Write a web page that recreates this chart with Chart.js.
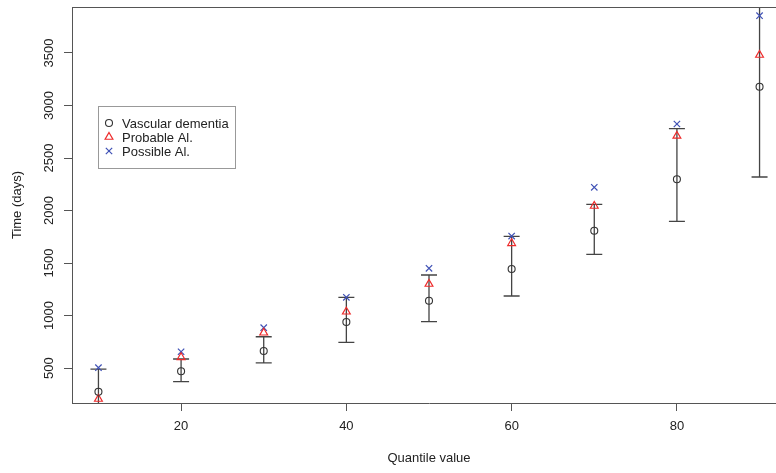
<!DOCTYPE html>
<html>
<head>
<meta charset="utf-8">
<script src="https://cdn.jsdelivr.net/npm/chart.js@4"></script>
<style>
  html, body { margin: 0; padding: 0; background: #fff; overflow: hidden; }
  #wrap { width: 790px; height: 473px; }
</style>
</head>
<body>
<div id="wrap"><canvas id="chart" width="790" height="473"></canvas></div>
<script>
// ── data ──
const quantiles = [10, 20, 30, 40, 50, 60, 70, 80, 90];
const vascular  = [274, 469, 662, 938, 1141, 1443, 1808, 2297, 3179];
const probable  = [205, 602, 836, 1036, 1300, 1688, 2043, 2710, 3481];
const possible  = [503, 655, 884, 1173, 1450, 1757, 2221, 2824, 3855];
// error bars around vascular dementia
const vascLow   = [94, 370, 550, 745, 941, 1186, 1583, 1897, 2319];
const vascHigh  = [490, 586, 798, 1173, 1386, 1754, 2059, 2779, 4200];

const seriesNames = ['Vascular dementia', 'Probable Al.', 'Possible Al.'];
const xTicks = [20, 40, 60, 80];
const yTicks = [500, 1000, 1500, 2000, 2500, 3000, 3500];

const FONT = "'Liberation Sans', Arial, sans-serif";
const AXIS = '#555';

const toPts = arr => arr.map((v, i) => ({ x: quantiles[i], y: v }));

// ── error bars, top line, rotated y labels, legend ──
const extras = {
  id: 'extras',
  beforeDatasetsDraw(chart) {
    const { ctx, chartArea: a, scales: { x, y } } = chart;
    ctx.save();
    ctx.beginPath();
    ctx.rect(a.left, a.top, a.right - a.left, a.bottom - a.top);
    ctx.clip();
    ctx.strokeStyle = '#444';
    ctx.lineWidth = 1.3;
    quantiles.forEach((q, i) => {
      const px = x.getPixelForValue(q);
      const lo = y.getPixelForValue(vascLow[i]);
      const hi = y.getPixelForValue(vascHigh[i]);
      ctx.beginPath();
      ctx.moveTo(px, lo); ctx.lineTo(px, hi);
      ctx.moveTo(px - 8, lo); ctx.lineTo(px + 8, lo);
      ctx.moveTo(px - 8, hi); ctx.lineTo(px + 8, hi);
      ctx.stroke();
    });
    ctx.restore();
  },
  afterDraw(chart) {
    const { ctx, chartArea: a, scales: { y } } = chart;
    ctx.save();
    // top of the plot box (right side falls outside the picture)
    ctx.strokeStyle = AXIS;
    ctx.lineWidth = 1;
    ctx.beginPath();
    ctx.moveTo(a.left, Math.round(a.top) + 0.5);
    ctx.lineTo(a.right, Math.round(a.top) + 0.5);
    ctx.stroke();

    // y tick labels, rotated like R's las=0
    ctx.fillStyle = '#222';
    ctx.font = '13px ' + FONT;
    ctx.textAlign = 'center';
    ctx.textBaseline = 'middle';
    yTicks.forEach(v => {
      ctx.save();
      ctx.translate(49.5, y.getPixelForValue(v));
      ctx.rotate(-Math.PI / 2);
      ctx.fillText(String(v), 0, 0);
      ctx.restore();
    });

    // legend
    const lx = 98, ly = 106, lw = 137, lh = 62;
    ctx.fillStyle = '#fff';
    ctx.fillRect(lx, ly, lw, lh);
    ctx.strokeStyle = '#999';
    ctx.strokeRect(lx + 0.5, ly + 0.5, lw, lh);
    ctx.textAlign = 'left';
    chart.data.datasets.forEach((ds, i) => {
      const ry = 123 + i * 14;
      ctx.fillStyle = 'rgba(0,0,0,0)';
      ctx.strokeStyle = ds.borderColor;
      ctx.lineWidth = ds.borderWidth;
      Chart.helpers.drawPoint(ctx, {
        pointStyle: ds.pointStyle, radius: ds.pointRadius,
        borderWidth: ds.borderWidth, rotation: 0
      }, 109, ry);
      ctx.fillStyle = '#222';
      ctx.fillText(seriesNames[i], 122, ry + 1);
    });
    ctx.restore();
  }
};

new Chart(document.getElementById('chart'), {
  type: 'scatter',
  data: {
    datasets: [
      {
        label: seriesNames[0], data: toPts(vascular),
        pointStyle: 'circle', pointRadius: 3.5, borderWidth: 1.1,
        borderColor: '#333', backgroundColor: 'rgba(0,0,0,0)'
      },
      {
        label: seriesNames[1], data: toPts(probable),
        pointStyle: 'triangle', pointRadius: 4.5, borderWidth: 1.2,
        borderColor: '#ee2a2a', backgroundColor: 'rgba(0,0,0,0)'
      },
      {
        label: seriesNames[2], data: toPts(possible),
        pointStyle: 'crossRot', pointRadius: 4.5, borderWidth: 1.2,
        borderColor: '#3f51b5', backgroundColor: 'rgba(0,0,0,0)'
      }
    ]
  },
  options: {
    responsive: false,
    devicePixelRatio: 1,
    animation: false,
    layout: { autoPadding: false, padding: { top: 7, right: 4, left: 0, bottom: 0 } },
    plugins: { legend: { display: false }, tooltip: { enabled: false } },
    scales: {
      x: {
        type: 'linear', min: 6.8, max: 93.2,
        afterBuildTicks: s => { s.ticks = xTicks.map(v => ({ value: v })); },
        afterFit: s => { s.height = 70; },
        grid: { drawOnChartArea: false, drawTicks: true, tickLength: 8, color: AXIS },
        border: { display: true, color: AXIS },
        ticks: { color: '#222', padding: 8, maxRotation: 0, font: { family: FONT, size: 13 } },
        title: {
          display: true, text: 'Quantile value', color: '#222',
          font: { family: FONT, size: 13 }, padding: { top: 0, bottom: 7 }
        }
      },
      y: {
        type: 'linear', min: 167, max: 3938,
        afterBuildTicks: s => { s.ticks = yTicks.map(v => ({ value: v })); },
        afterFit: s => { s.width = 72; },
        grid: { drawOnChartArea: false, drawTicks: true, tickLength: 8, color: AXIS },
        border: { display: true, color: AXIS },
        ticks: { display: false },
        title: {
          display: true, text: 'Time (days)', color: '#222',
          font: { family: FONT, size: 13 }, padding: { top: 10, bottom: 0 }
        }
      }
    }
  },
  plugins: [extras]
});
</script>
</body>
</html>
